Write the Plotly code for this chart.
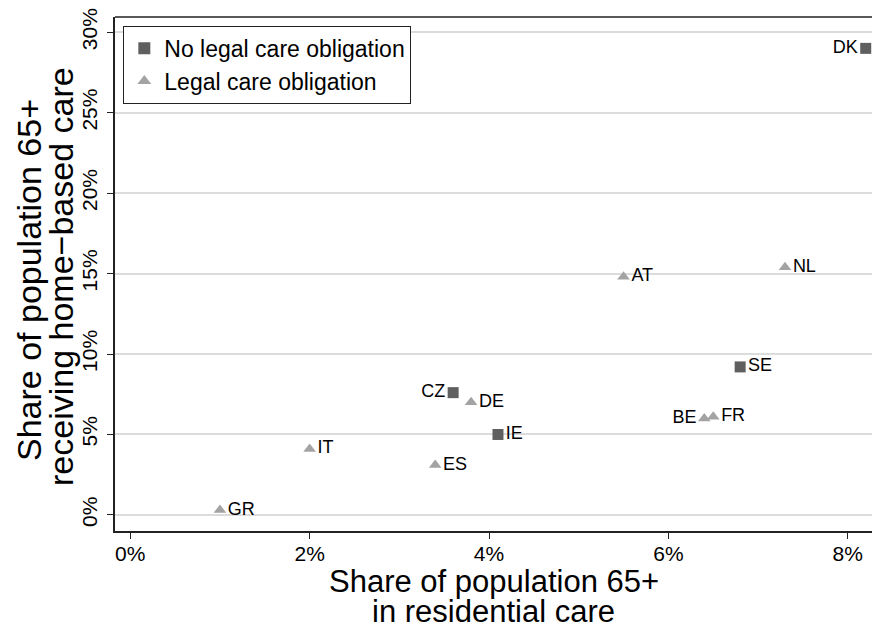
import plotly.graph_objects as go

# Countries without a legal care obligation
no_oblig_country = ["DK", "SE", "CZ", "IE"]
no_oblig_resid = [8.2, 6.8, 3.6, 4.1]
no_oblig_home = [29.0, 9.2, 7.6, 5.0]
no_oblig_pos = ["middle left", "middle right", "middle left", "middle right"]

# Countries with a legal care obligation
oblig_country = ["NL", "AT", "FR", "BE", "DE", "IT", "ES", "GR"]
oblig_resid = [7.3, 5.5, 6.5, 6.4, 3.8, 2.0, 3.4, 1.0]
oblig_home = [15.4, 14.8, 6.1, 6.0, 7.0, 4.1, 3.1, 0.3]
oblig_pos = ["middle right", "middle right", "middle right", "middle left",
             "middle right", "middle right", "middle right", "middle right"]

x_ticks = [0, 2, 4, 6, 8]
y_ticks = [0, 5, 10, 15, 20, 25, 30]

x_title = ["Share of population 65+", "in residential care"]
y_title = ["Share of population 65+", "receiving home\u2212based care"]

FONT = "Liberation Sans, Arial, Helvetica, sans-serif"

# plot-area geometry in pixels (used to place the title lines)
W, H = 872, 629
L, R, T, B = 115, 0, 17, 98
PW, PH = W - L - R, H - T - B


def px_x(px):
    return (px - L) / PW


def px_y(py):
    return (H - B - py) / PH


fig = go.Figure()
fig.add_trace(go.Scatter(
    x=no_oblig_resid, y=no_oblig_home, text=no_oblig_country,
    mode="markers+text", textposition=no_oblig_pos,
    marker=dict(symbol="square", size=11, color="#5f5f5f"),
    textfont=dict(size=18, color="black", family=FONT),
    name="No legal care obligation", cliponaxis=False,
))
fig.add_trace(go.Scatter(
    x=oblig_resid, y=oblig_home, text=oblig_country,
    mode="markers+text", textposition=oblig_pos,
    marker=dict(symbol="triangle-up", size=11, color="#a3a3a3"),
    textfont=dict(size=18, color="black", family=FONT),
    name="Legal care obligation", cliponaxis=False,
))

annotations = [
    dict(text=x_title[0], xref="paper", yref="paper", x=0.5, y=px_y(581),
         xanchor="center", yanchor="middle", showarrow=False, borderpad=0,
         font=dict(size=31, family=FONT, color="black")),
    dict(text=x_title[1], xref="paper", yref="paper", x=0.5, y=px_y(611),
         xanchor="center", yanchor="middle", showarrow=False, borderpad=0,
         font=dict(size=31, family=FONT, color="black")),
    dict(text=y_title[0], xref="paper", yref="paper", x=px_x(29), y=px_y(280),
         xanchor="center", yanchor="middle", showarrow=False, textangle=-90,
         font=dict(size=34, family=FONT, color="black")),
    dict(text=y_title[1], xref="paper", yref="paper", x=px_x(61), y=px_y(277),
         xanchor="center", yanchor="middle", showarrow=False, textangle=-90,
         font=dict(size=34, family=FONT, color="black")),
]

fig.update_layout(
    width=W, height=H,
    margin=dict(l=L, r=R, t=T, b=B),
    plot_bgcolor="white", paper_bgcolor="white",
    font=dict(family=FONT, color="black"),
    legend=dict(
        x=0.011, y=0.983, xanchor="left", yanchor="top",
        bordercolor="#222222", borderwidth=1,
        font=dict(size=23, family=FONT), itemsizing="constant",
        tracegroupgap=0,
    ),
    annotations=annotations,
    shapes=[dict(type="line", xref="paper", yref="paper",
                 x0=0, x1=1, y0=1, y1=1,
                 line=dict(color="#222222", width=1.5))],
)
fig.update_xaxes(
    range=[-0.17, 8.27], tickvals=x_ticks,
    ticktext=[f"{v}%" for v in x_ticks],
    showgrid=False, zeroline=False,
    showline=True, linecolor="#222222", linewidth=1.5,
    ticks="outside", ticklen=6, tickcolor="#222222",
    tickfont=dict(size=21), ticklabelstandoff=-3,
)
fig.update_yaxes(
    range=[-1.0, 30.95], tickvals=y_ticks,
    ticktext=[f"{v}%" for v in y_ticks],
    showgrid=True, gridcolor="#dcdcdc", gridwidth=1.5, zeroline=False,
    showline=True, linecolor="#222222", linewidth=1.5,
    ticks="outside", ticklen=6, tickcolor="#222222",
    tickfont=dict(size=21), tickangle=-90, ticklabelstandoff=2,
)

fig.write_html("out.html")
